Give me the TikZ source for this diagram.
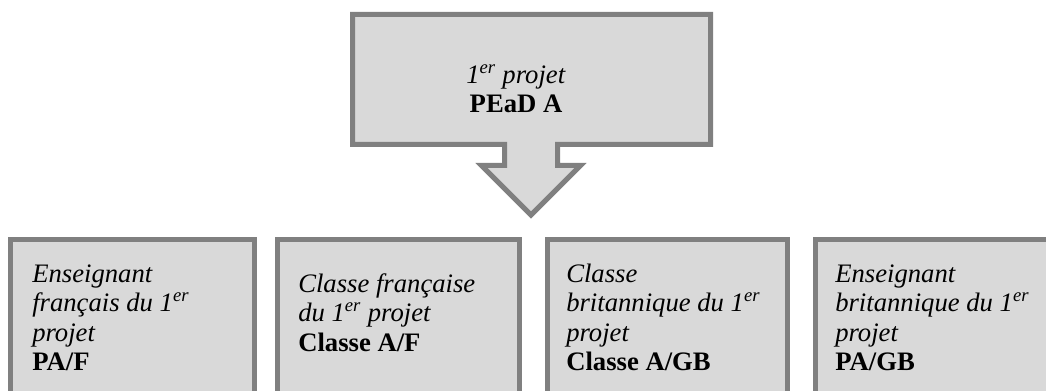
\documentclass[tikz,border=0pt]{standalone}
\usepackage{fontspec}
\setmainfont{Liberation Serif}
\definecolor{boxgray}{HTML}{808080}
\definecolor{boxfill}{HTML}{D9D9D9}
\tikzstyle{boxframe} = [draw=boxgray, fill=boxfill, line width=3.75pt, miter limit=10]
\tikzstyle{lowbox} = [rectangle, boxframe, inner sep=0pt, outer sep=0pt, anchor=north west, minimum height=135pt]
\tikzstyle{boxtext} = [inner sep=0pt, anchor=north west, align=left, font=\fontsize{20}{22.1}\selectfont]
\tikzstyle{toptext} = [inner sep=0pt, anchor=north, align=center, font=\fontsize{20}{22.1}\selectfont]

\begin{document}
\begin{tikzpicture}[x=0.75pt, y=-0.75pt]
		\useasboundingbox (0,0) rectangle (1046,391);
		\clip (0,0) rectangle (1046,391);
		\draw[boxframe] (352.5,14.5) -- (710.5,14.5) -- (710.5,144.5) -- (557.5,144.5) -- (557.5,165.5)
			-- (580.5,165.5) -- (531,215) -- (481.5,165.5) -- (504.5,165.5) -- (504.5,144.5)
			-- (352.5,144.5) -- cycle;
		\node (proj) [toptext] at (516,62.3) {\strut\textit{1\textsuperscript{er} projet}\\
			\textbf{PEaD A}};
		\node (paf) [lowbox, minimum width=183pt] at (10.5,239.5) {};
		\node (caf) [lowbox, minimum width=181.5pt] at (277.5,239.5) {};
		\node (cagb) [lowbox, minimum width=180pt] at (547.5,239.5) {};
		\node (pagb) [lowbox, minimum width=200pt] at (815.5,239.5) {};
		\node (paftxt) [boxtext] at (32,261.3) {\strut\textit{Enseignant}\\
			\textit{français du 1\textsuperscript{er}}\\
			\textit{projet}\\
			\textbf{PA/F}};
		\node (caftxt) [boxtext] at (298,271.3) {\strut\textit{Classe française}\\
			\textit{du 1\textsuperscript{er} projet}\\
			\textbf{Classe A/F}};
		\node (cagbtxt) [boxtext] at (566,261.3) {\strut\textit{Classe}\\
			\textit{britannique du 1\textsuperscript{er}}\\
			\textit{projet}\\
			\textbf{Classe A/GB}};
		\node (pagbtxt) [boxtext] at (835,261.3) {\strut\textit{Enseignant}\\
			\textit{britannique du 1\textsuperscript{er}}\\
			\textit{projet}\\
			\textbf{PA/GB}};
	\end{tikzpicture}
\end{document}
